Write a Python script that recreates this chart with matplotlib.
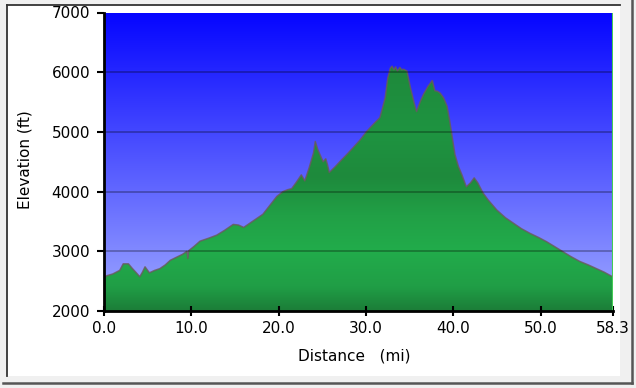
import numpy as np
import matplotlib
matplotlib.use("Agg")
import matplotlib.pyplot as plt
from matplotlib.patches import Polygon, Rectangle
from matplotlib.lines import Line2D
from matplotlib.colors import LinearSegmentedColormap

# ---- data ----
distance_mi = [0.0, 0.3, 1.0, 1.8, 2.2, 2.8, 3.2, 3.7, 4.1, 4.4, 4.7, 5.0, 5.2, 5.8,
               6.4, 7.0, 7.6, 8.3, 9.0, 9.5, 9.6, 9.7, 10.3, 11.0, 12.0, 12.9, 13.8,
               14.8, 15.4, 16.0, 16.7, 17.5, 18.2, 19.0, 19.8, 20.5, 21.0, 21.5, 22.0,
               22.6, 23.0, 23.5, 24.0, 24.2, 24.5, 24.8, 25.1, 25.4, 25.6, 25.8, 26.5,
               27.2, 27.8, 28.5, 29.3, 30.1, 30.8, 31.6, 31.9, 32.2, 32.5, 32.8, 33.0,
               33.2, 33.4, 33.6, 33.9, 34.1, 34.3, 34.7, 35.1, 35.5, 35.8, 36.2, 36.6,
               37.1, 37.6, 37.9, 38.2, 38.5, 38.9, 39.3, 39.6, 40.2, 40.6, 41.0, 41.5,
               42.0, 42.4, 42.8, 43.4, 44.0, 45.0, 46.0, 46.9, 47.8, 48.8, 49.8, 50.7,
               51.6, 52.6, 53.5, 54.5, 55.5, 56.4, 57.3, 58.3]
elevation_ft = [2550, 2590, 2620, 2680, 2790, 2790, 2720, 2640, 2575, 2650, 2740, 2680,
                2640, 2680, 2710, 2770, 2850, 2900, 2950, 3000, 2880, 3010, 3080, 3170,
                3220, 3270, 3350, 3450, 3440, 3400, 3470, 3550, 3620, 3770, 3920, 4000,
                4030, 4050, 4150, 4280, 4180, 4400, 4650, 4840, 4700, 4600, 4500, 4550,
                4450, 4320, 4420, 4530, 4620, 4730, 4860, 5010, 5120, 5240, 5400, 5570,
                5900, 6070, 6100, 6040, 6090, 6020, 6080, 6040, 6050, 6020, 5740, 5500,
                5340, 5500, 5630, 5760, 5860, 5690, 5680, 5650, 5570, 5430, 5180, 4620,
                4420, 4280, 4080, 4150, 4230, 4150, 3980, 3860, 3690, 3560, 3470, 3380,
                3300, 3230, 3160, 3080, 2990, 2910, 2830, 2770, 2710, 2650, 2570]
x_ticks = [0.0, 10.0, 20.0, 30.0, 40.0, 50.0, 58.3]
x_tick_labels = ["0.0", "10.0", "20.0", "30.0", "40.0", "50.0", "58.3"]
y_ticks = [2000, 3000, 4000, 5000, 6000, 7000]
y_tick_labels = ["2000", "3000", "4000", "5000", "6000", "7000"]
x_min, x_max = 0.0, 58.3
y_min, y_max = 2000, 7000

W, H = 636, 388
fig = plt.figure(figsize=(W / 100, H / 100), dpi=100)
fig.patch.set_facecolor("#f0f0f0")

def fx(x):
    return x / W

def fy(y):
    return 1 - y / H

# white panel with border and shadow
fig.add_artist(Rectangle((fx(7), fy(376)), fx(620) - fx(7), fy(5) - fy(376),
                         transform=fig.transFigure, facecolor="white",
                         edgecolor="none", zorder=0))
fig.add_artist(Line2D([fx(7), fx(620)], [fy(5), fy(5)], transform=fig.transFigure,
                      color="#333333", lw=1.3))
fig.add_artist(Line2D([fx(7), fx(7)], [fy(5), fy(376)], transform=fig.transFigure,
                      color="#333333", lw=1.3))
fig.add_artist(Line2D([fx(3), fx(632)], [fy(383), fy(383)], transform=fig.transFigure,
                      color="#555555", lw=1.8))
fig.add_artist(Line2D([fx(632), fx(632)], [fy(0), fy(383)], transform=fig.transFigure,
                      color="#555555", lw=1.8))

ax = fig.add_axes([fx(104), fy(311), fx(613) - fx(104), fy(12.5) - fy(311)])
ax.set_xlim(x_min, x_max)
ax.set_ylim(y_min, y_max)
ax.patch.set_visible(False)

# sky gradient
sky = LinearSegmentedColormap.from_list(
    "sky", [(0.0, (160/255, 170/255, 1.0)), (1.0, (5/255, 5/255, 1.0))])
grad = np.linspace(0, 1, 256).reshape(-1, 1)
ax.imshow(grad, cmap=sky, aspect="auto", origin="lower",
          extent=[x_min, x_max, y_min, y_max], zorder=0)

# terrain gradient clipped to profile
greens = LinearSegmentedColormap.from_list("grn", [
    (0.00, (28/255, 125/255, 56/255)),
    (0.08, (32/255, 158/255, 70/255)),
    (0.20, (34/255, 172/255, 75/255)),
    (0.32, (33/255, 160/255, 70/255)),
    (0.45, (30/255, 138/255, 60/255)),
    (0.60, (31/255, 148/255, 65/255)),
    (0.80, (30/255, 138/255, 60/255)),
    (1.00, (30/255, 130/255, 58/255)),
])
verts = list(zip(distance_mi, elevation_ft)) + [(x_max, y_min), (x_min, y_min)]
poly = Polygon(verts, closed=True, facecolor="none", edgecolor="none")
ax.add_patch(poly)
im = ax.imshow(grad, cmap=greens, aspect="auto", origin="lower",
               extent=[x_min, x_max, y_min, y_max], zorder=1)
im.set_clip_path(poly)
ax.plot(distance_mi, elevation_ft, color="#6a5a5c", lw=1.1, alpha=0.8, zorder=2)

# grid lines
for yv in y_ticks[1:-1]:
    ax.axhline(yv, color=(0, 0, 0, 0.28), lw=1.4, zorder=3)
ax.axvline(x_max, color="#44cc55", lw=1.5, zorder=3)

# spines & ticks
for s in ["top", "right"]:
    ax.spines[s].set_visible(False)
for s in ["left", "bottom"]:
    ax.spines[s].set_linewidth(2)
    ax.spines[s].set_color("black")
    ax.spines[s].set_zorder(4)
ax.set_xticks(x_ticks)
ax.set_xticklabels(x_tick_labels)
ax.set_yticks(y_ticks)
ax.set_yticklabels(y_tick_labels)
ax.tick_params(axis="x", direction="inout", length=7, width=1.5, pad=4,
               labelsize=11, colors="black")
ax.tick_params(axis="y", direction="out", length=5, width=1.5, pad=5,
               labelsize=11, colors="black")

fig.text(fx(25), fy(160), "Elevation (ft)", rotation=90, ha="center", va="center",
         fontsize=11, color="black")
fig.text(fx(354), fy(356), "Distance   (mi)", ha="center", va="center",
         fontsize=11, color="black")

fig.savefig("out.png", dpi=100, facecolor=fig.get_facecolor())
